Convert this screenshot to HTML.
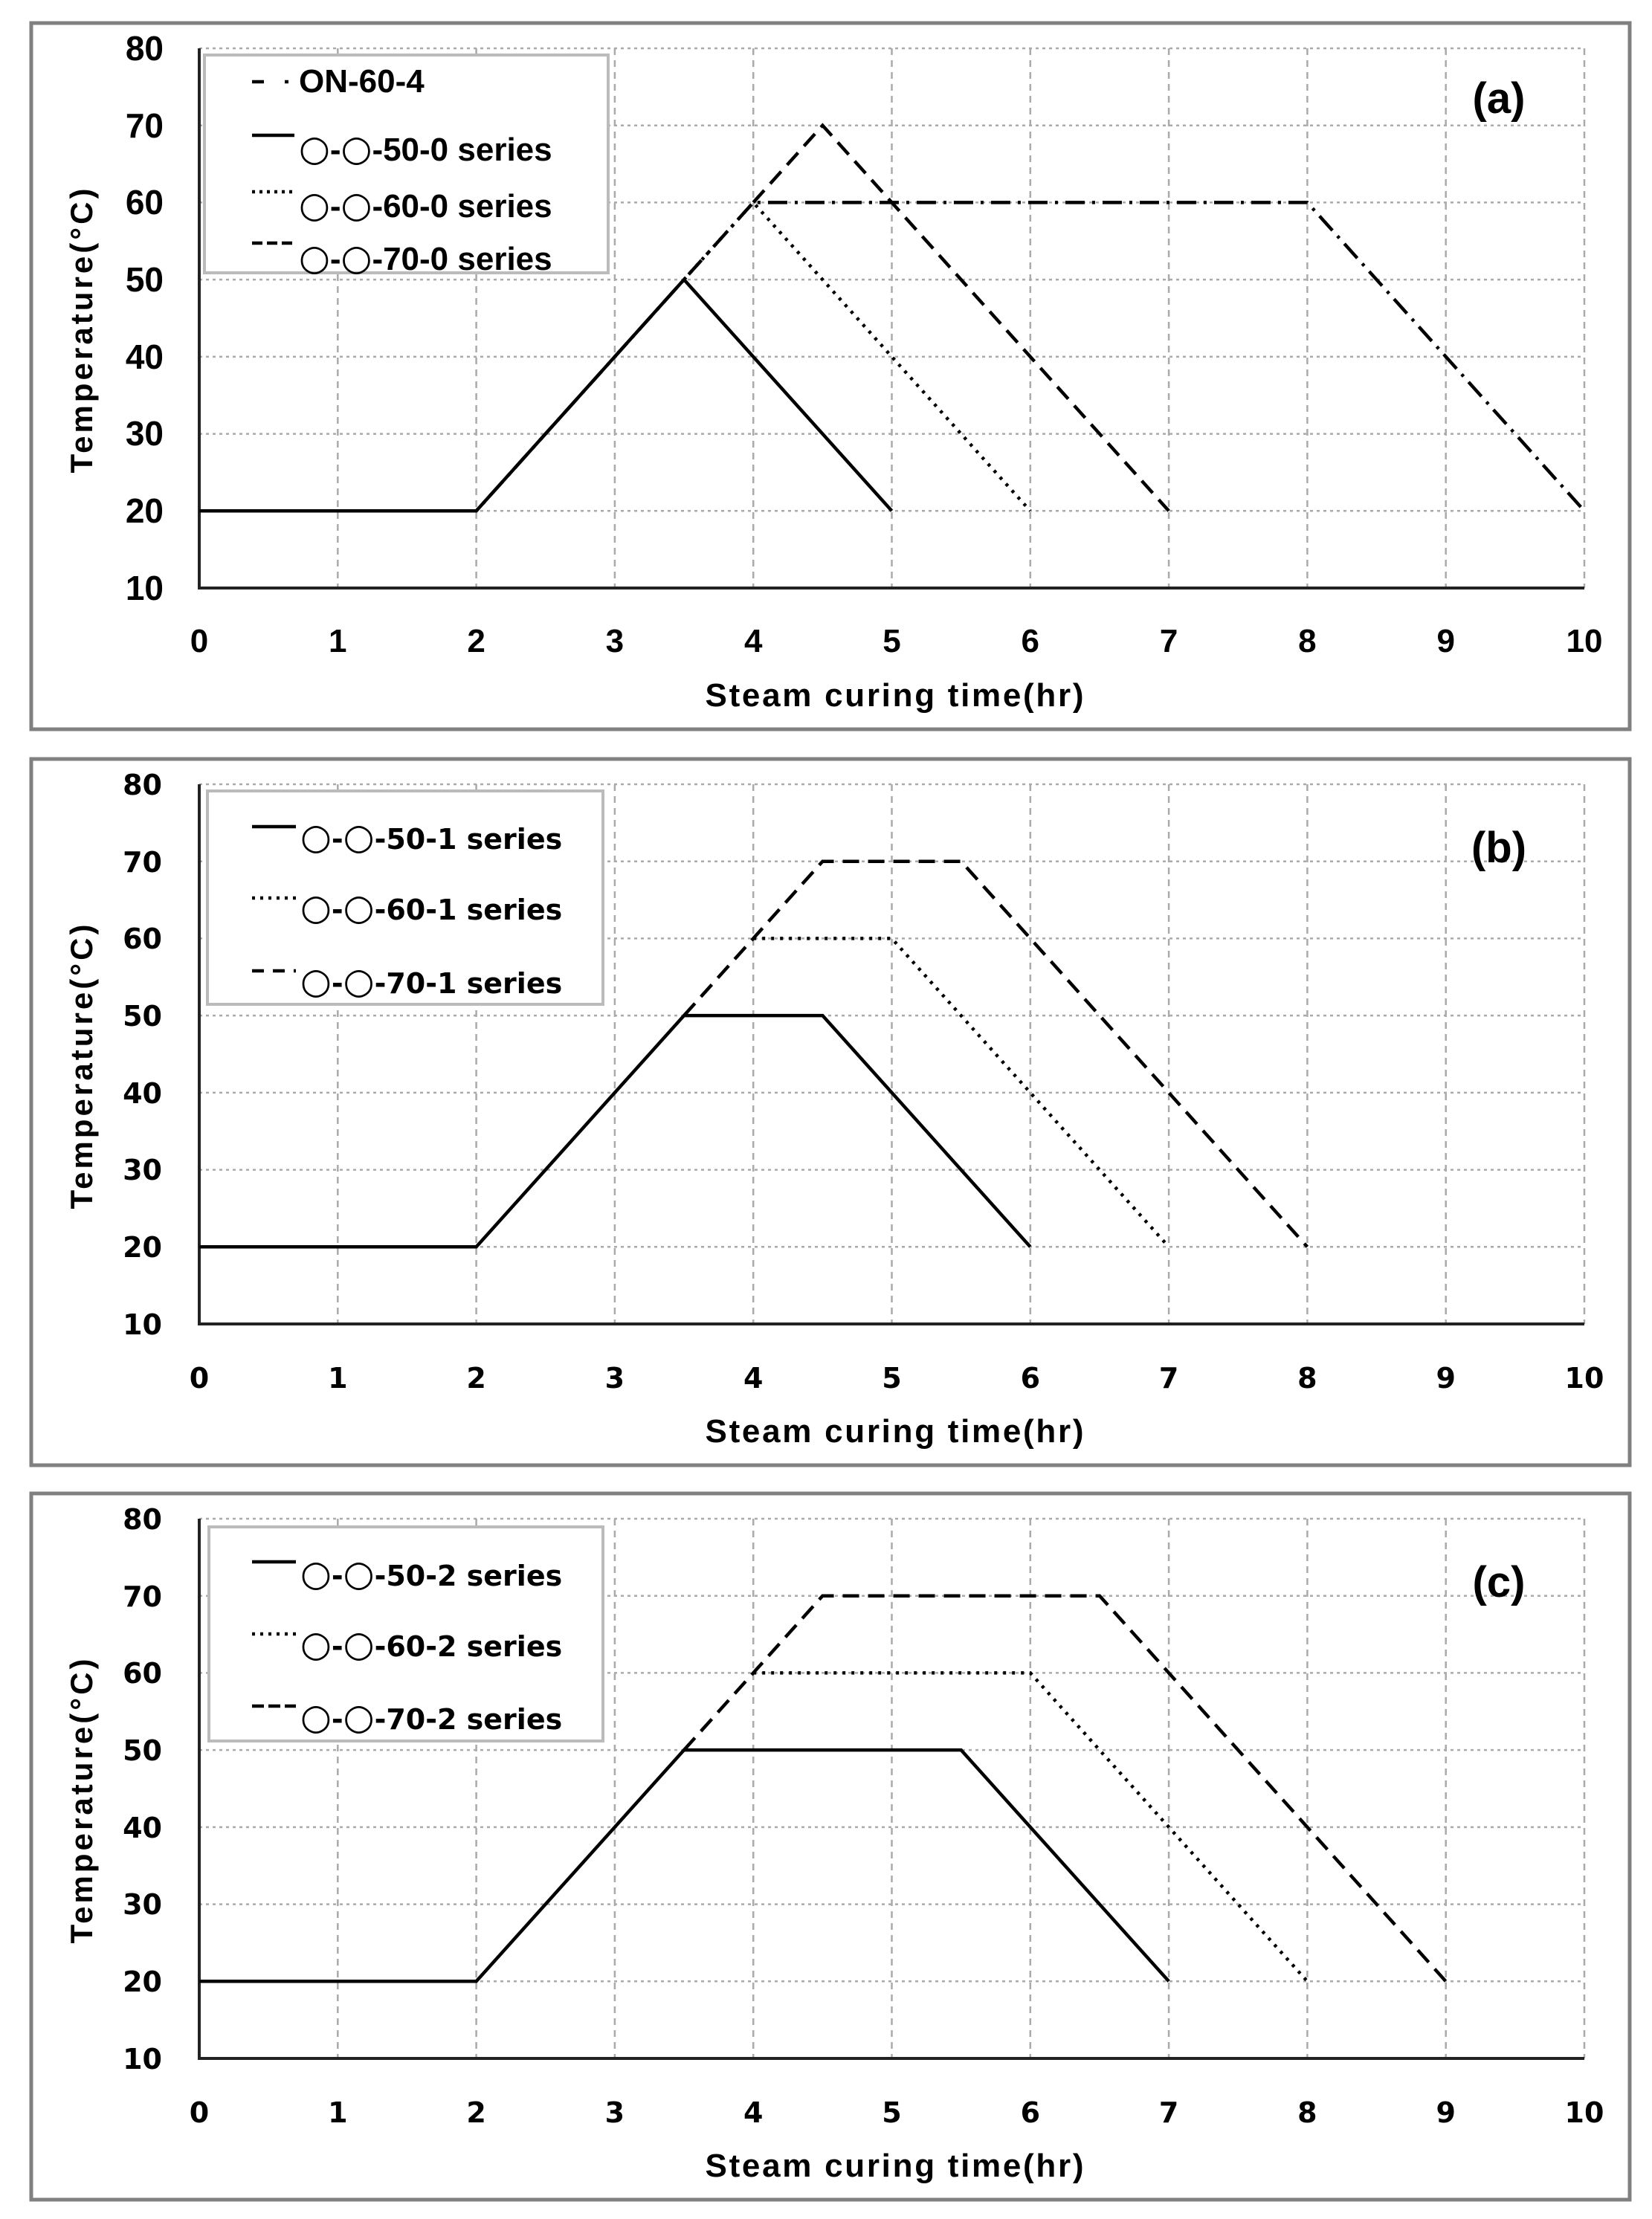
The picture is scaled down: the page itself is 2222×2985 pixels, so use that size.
<!DOCTYPE html>
<html><head><meta charset="utf-8"><style>
html,body{margin:0;padding:0;background:#fff;}
svg{display:block;}
.t{font-family:"Liberation Sans",sans-serif;font-weight:bold;fill:#000;}
.d{font-family:"DejaVu Sans","Liberation Sans",sans-serif;font-weight:bold;fill:#000;}
.c{font-family:"DejaVu Sans",sans-serif;font-weight:normal;font-size:48px;}
</style></head><body>
<svg width="2222" height="2985" viewBox="0 0 2222 2985" xmlns="http://www.w3.org/2000/svg">
<defs>
<g id="grid">
 <g stroke="#aaa" stroke-width="2.5" stroke-dasharray="4,5" fill="none">
  <line x1="268" y1="65" x2="2131" y2="65"/>
  <line x1="268" y1="168.7" x2="2131" y2="168.7"/>
  <line x1="268" y1="272.4" x2="2131" y2="272.4"/>
  <line x1="268" y1="376.1" x2="2131" y2="376.1"/>
  <line x1="268" y1="479.9" x2="2131" y2="479.9"/>
  <line x1="268" y1="583.6" x2="2131" y2="583.6"/>
  <line x1="268" y1="687.3" x2="2131" y2="687.3"/>
 </g>
 <g stroke="#aaa" stroke-width="2.5" stroke-dasharray="9,7" fill="none">
  <line x1="454.3" y1="65" x2="454.3" y2="791"/>
  <line x1="640.6" y1="65" x2="640.6" y2="791"/>
  <line x1="826.9" y1="65" x2="826.9" y2="791"/>
  <line x1="1013.2" y1="65" x2="1013.2" y2="791"/>
  <line x1="1199.5" y1="65" x2="1199.5" y2="791"/>
  <line x1="1385.8" y1="65" x2="1385.8" y2="791"/>
  <line x1="1572.1" y1="65" x2="1572.1" y2="791"/>
  <line x1="1758.4" y1="65" x2="1758.4" y2="791"/>
  <line x1="1944.7" y1="65" x2="1944.7" y2="791"/>
  <line x1="2131" y1="65" x2="2131" y2="791"/>
 </g>
 <polyline points="268,65 268,791 2131,791" fill="none" stroke="#222" stroke-width="4"/>
</g>
</defs>

<!-- ================= PANEL A ================= -->
<g>
<rect x="42" y="31" width="2150" height="950" fill="none" stroke="#808080" stroke-width="5"/>
<use href="#grid"/>
<g class="t" font-size="46" text-anchor="end">
 <text x="220" y="81">80</text><text x="220" y="185">70</text><text x="220" y="288">60</text>
 <text x="220" y="392">50</text><text x="220" y="496">40</text><text x="220" y="599">30</text>
 <text x="220" y="703">20</text><text x="220" y="807">10</text>
</g>
<g class="t" font-size="44" text-anchor="middle">
 <text x="268" y="877">0</text><text x="454.3" y="877">1</text><text x="640.6" y="877">2</text>
 <text x="826.9" y="877">3</text><text x="1013.2" y="877">4</text><text x="1199.5" y="877">5</text>
 <text x="1385.8" y="877">6</text><text x="1572.1" y="877">7</text><text x="1758.4" y="877">8</text>
 <text x="1944.7" y="877">9</text><text x="2131" y="877">10</text>
</g>
<text class="t" font-size="44" x="1203" y="950" text-anchor="middle" textLength="509">Steam curing time(hr)</text>
<text class="t" font-size="42" transform="translate(124,445) rotate(-90)" text-anchor="middle" textLength="383">Temperature(°C)</text>
<text class="t" font-size="58" x="2016" y="152" text-anchor="middle">(a)</text>
<g fill="none" stroke="#000" stroke-width="4.5">
 <polyline points="268,687.3 640.6,687.3 1013.2,272.4 1758.4,272.4 2131,687.3" stroke-dasharray="26,10,4,10"/>
 <polyline points="268,687.3 640.6,687.3 920,376.1 1199.5,687.3"/>
 <polyline points="920,376.1 1013.2,272.4 1385.8,687.3" stroke-dasharray="4,8"/>
 <polyline points="1013.2,272.4 1106.4,168.7 1572.1,687.3" stroke-dasharray="22,12"/>
</g>
<rect x="275" y="74" width="543" height="293" fill="#fff" stroke="#bbb" stroke-width="4"/>
<g fill="none" stroke="#000" stroke-width="4.5">
 <line x1="339" y1="110" x2="355" y2="110"/><line x1="383" y1="110" x2="388" y2="110"/>
 <line x1="339" y1="182" x2="396" y2="182"/>
 <line x1="339" y1="258" x2="396" y2="258" stroke-dasharray="4,6"/>
 <line x1="339" y1="327" x2="396" y2="327" stroke-dasharray="14,6"/>
</g>
<g class="t" font-size="44">
 <text x="402" y="124">ON-60-4</text>
 <text x="402" y="216"><tspan class="c">○</tspan>-<tspan class="c">○</tspan>-50-0 series</text>
 <text x="402" y="292"><tspan class="c">○</tspan>-<tspan class="c">○</tspan>-60-0 series</text>
 <text x="402" y="363"><tspan class="c">○</tspan>-<tspan class="c">○</tspan>-70-0 series</text>
</g>
</g>

<!-- ================= PANEL B ================= -->
<g transform="translate(0,990)">
<rect x="42" y="31" width="2150" height="950" fill="none" stroke="#808080" stroke-width="5"/>
<use href="#grid"/>
<g class="d" font-size="38" text-anchor="end">
 <text x="218" y="79">80</text><text x="218" y="183">70</text><text x="218" y="286">60</text>
 <text x="218" y="390">50</text><text x="218" y="494">40</text><text x="218" y="597">30</text>
 <text x="218" y="701">20</text><text x="218" y="805">10</text>
</g>
<g class="d" font-size="38" text-anchor="middle">
 <text x="268" y="877">0</text><text x="454.3" y="877">1</text><text x="640.6" y="877">2</text>
 <text x="826.9" y="877">3</text><text x="1013.2" y="877">4</text><text x="1199.5" y="877">5</text>
 <text x="1385.8" y="877">6</text><text x="1572.1" y="877">7</text><text x="1758.4" y="877">8</text>
 <text x="1944.7" y="877">9</text><text x="2131" y="877">10</text>
</g>
<text class="t" font-size="44" x="1203" y="950" text-anchor="middle" textLength="509">Steam curing time(hr)</text>
<text class="t" font-size="42" transform="translate(124,445) rotate(-90)" text-anchor="middle" textLength="383">Temperature(°C)</text>
<text class="t" font-size="58" x="2016" y="170" text-anchor="middle">(b)</text>
<g fill="none" stroke="#000" stroke-width="4.5">
 <polyline points="268,687.3 640.6,687.3 920,376.1 1106.4,376.1 1385.8,687.3"/>
 <polyline points="1013.2,272.4 1199.5,272.4 1572.1,687.3" stroke-dasharray="4,8"/>
 <polyline points="920,376.1 1106.4,168.7 1292.7,168.7 1758.4,687.3" stroke-dasharray="22,12"/>
</g>
<rect x="279" y="74" width="532" height="287" fill="#fff" stroke="#bbb" stroke-width="4"/>
<g fill="none" stroke="#000" stroke-width="4.5">
 <line x1="339" y1="122" x2="398" y2="122"/>
 <line x1="339" y1="218" x2="398" y2="218" stroke-dasharray="4,7"/>
 <line x1="339" y1="316" x2="398" y2="316" stroke-dasharray="16,12"/>
</g>
<g class="d" font-size="38">
 <text x="404" y="152"><tspan class="c">○</tspan>-<tspan class="c">○</tspan>-50-1 series</text>
 <text x="404" y="247"><tspan class="c">○</tspan>-<tspan class="c">○</tspan>-60-1 series</text>
 <text x="404" y="346"><tspan class="c">○</tspan>-<tspan class="c">○</tspan>-70-1 series</text>
</g>
</g>

<!-- ================= PANEL C ================= -->
<g transform="translate(0,1978)">
<rect x="42" y="31" width="2150" height="950" fill="none" stroke="#808080" stroke-width="5"/>
<use href="#grid"/>
<g class="d" font-size="38" text-anchor="end">
 <text x="218" y="79">80</text><text x="218" y="183">70</text><text x="218" y="286">60</text>
 <text x="218" y="390">50</text><text x="218" y="494">40</text><text x="218" y="597">30</text>
 <text x="218" y="701">20</text><text x="218" y="805">10</text>
</g>
<g class="d" font-size="38" text-anchor="middle">
 <text x="268" y="877">0</text><text x="454.3" y="877">1</text><text x="640.6" y="877">2</text>
 <text x="826.9" y="877">3</text><text x="1013.2" y="877">4</text><text x="1199.5" y="877">5</text>
 <text x="1385.8" y="877">6</text><text x="1572.1" y="877">7</text><text x="1758.4" y="877">8</text>
 <text x="1944.7" y="877">9</text><text x="2131" y="877">10</text>
</g>
<text class="t" font-size="44" x="1203" y="950" text-anchor="middle" textLength="509">Steam curing time(hr)</text>
<text class="t" font-size="42" transform="translate(124,445) rotate(-90)" text-anchor="middle" textLength="383">Temperature(°C)</text>
<text class="t" font-size="58" x="2016" y="170" text-anchor="middle">(c)</text>
<g fill="none" stroke="#000" stroke-width="4.5">
 <polyline points="268,687.3 640.6,687.3 920,376.1 1292.7,376.1 1572.1,687.3"/>
 <polyline points="1013.2,272.4 1385.8,272.4 1758.4,687.3" stroke-dasharray="4,8"/>
 <polyline points="920,376.1 1106.4,168.7 1479,168.7 1944.7,687.3" stroke-dasharray="22,12"/>
</g>
<rect x="281" y="76" width="530" height="288" fill="#fff" stroke="#bbb" stroke-width="4"/>
<g fill="none" stroke="#000" stroke-width="4.5">
 <line x1="339" y1="123" x2="398" y2="123"/>
 <line x1="339" y1="220" x2="398" y2="220" stroke-dasharray="4,7"/>
 <line x1="339" y1="317" x2="398" y2="317" stroke-dasharray="16,6"/>
</g>
<g class="d" font-size="38">
 <text x="404" y="155"><tspan class="c">○</tspan>-<tspan class="c">○</tspan>-50-2 series</text>
 <text x="404" y="250"><tspan class="c">○</tspan>-<tspan class="c">○</tspan>-60-2 series</text>
 <text x="404" y="348"><tspan class="c">○</tspan>-<tspan class="c">○</tspan>-70-2 series</text>
</g>
</g>
</svg>
</body></html>
